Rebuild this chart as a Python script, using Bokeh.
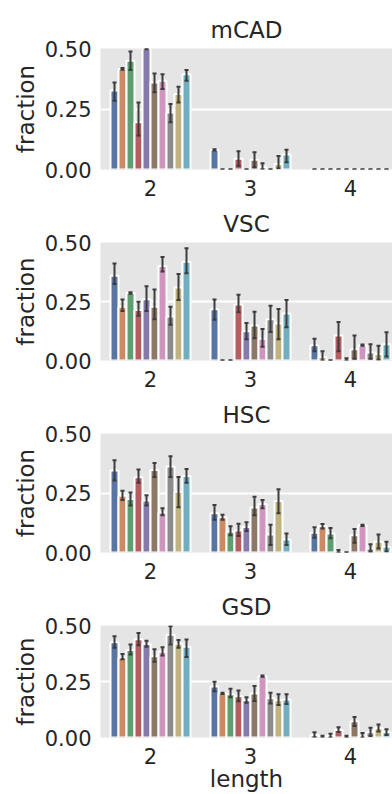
import colorsys

from bokeh.embed import file_html
from bokeh.layouts import column
from bokeh.models import (ColumnDataSource, FixedTicker, Label, NumeralTickFormatter,
                          Range1d, TeeHead, Whisker)
from bokeh.plotting import figure
from bokeh.resources import INLINE
from bokeh.transform import dodge

# ---- data -----------------------------------------------------------------
lengths = ["2", "3", "4"]
groups = ["g01", "g02", "g03", "g04", "g05", "g06", "g07", "g08", "g09", "g10"]
panel_names = ["mCAD", "VSC", "HSC", "GSD"]

# rows: length 2, 3, 4 ; columns: one value per group
mcad_mean = [[0.326, 0.415, 0.449, 0.195, 0.500, 0.360, 0.367, 0.236, 0.312, 0.394],
             [0.081, 0.000, 0.000, 0.044, 0.000, 0.040, 0.010, 0.000, 0.023, 0.062],
             [0.000, 0.000, 0.000, 0.000, 0.000, 0.000, 0.000, 0.000, 0.000, 0.000]]
mcad_lo = [[0.284, 0.412, 0.411, 0.140, 0.497, 0.319, 0.333, 0.195, 0.277, 0.367],
           [0.078, 0.000, 0.000, 0.016, 0.000, 0.009, 0.000, 0.000, 0.005, 0.030],
           [0.000, 0.000, 0.000, 0.000, 0.000, 0.000, 0.000, 0.000, 0.000, 0.000]]
mcad_hi = [[0.360, 0.419, 0.488, 0.277, 0.503, 0.397, 0.394, 0.271, 0.342, 0.411],
           [0.084, 0.000, 0.000, 0.075, 0.000, 0.071, 0.026, 0.000, 0.056, 0.082],
           [0.000, 0.000, 0.000, 0.000, 0.000, 0.000, 0.000, 0.000, 0.000, 0.000]]

vsc_mean = [[0.359, 0.228, 0.286, 0.214, 0.260, 0.228, 0.400, 0.186, 0.309, 0.418],
            [0.217, 0.000, 0.000, 0.237, 0.124, 0.148, 0.092, 0.175, 0.157, 0.199],
            [0.065, 0.014, 0.000, 0.106, 0.004, 0.048, 0.065, 0.034, 0.028, 0.069]]
vsc_lo = [[0.324, 0.210, 0.283, 0.190, 0.210, 0.175, 0.377, 0.152, 0.256, 0.370],
          [0.173, 0.000, 0.000, 0.204, 0.090, 0.094, 0.058, 0.121, 0.090, 0.141],
          [0.039, 0.000, 0.000, 0.039, 0.000, 0.007, 0.062, 0.007, 0.003, 0.017]]
vsc_hi = [[0.411, 0.258, 0.289, 0.249, 0.315, 0.301, 0.439, 0.228, 0.366, 0.476],
          [0.258, 0.000, 0.000, 0.279, 0.159, 0.207, 0.134, 0.232, 0.218, 0.256],
          [0.092, 0.039, 0.000, 0.163, 0.010, 0.106, 0.068, 0.069, 0.062, 0.120]]

hsc_mean = [[0.345, 0.238, 0.225, 0.316, 0.218, 0.347, 0.168, 0.361, 0.255, 0.321],
            [0.165, 0.148, 0.087, 0.092, 0.107, 0.189, 0.204, 0.076, 0.216, 0.055],
            [0.083, 0.110, 0.080, 0.005, 0.000, 0.072, 0.114, 0.017, 0.045, 0.024]]
hsc_lo = [[0.303, 0.221, 0.197, 0.293, 0.197, 0.317, 0.156, 0.317, 0.190, 0.293],
          [0.138, 0.138, 0.073, 0.069, 0.090, 0.156, 0.186, 0.032, 0.165, 0.032],
          [0.062, 0.101, 0.060, 0.000, 0.000, 0.041, 0.111, 0.003, 0.017, 0.004]]
hsc_hi = [[0.388, 0.259, 0.252, 0.349, 0.241, 0.376, 0.186, 0.404, 0.317, 0.351],
          [0.200, 0.159, 0.110, 0.121, 0.127, 0.234, 0.221, 0.117, 0.266, 0.080],
          [0.106, 0.120, 0.103, 0.010, 0.000, 0.099, 0.117, 0.035, 0.076, 0.045]]

gsd_mean = [[0.425, 0.356, 0.391, 0.439, 0.417, 0.363, 0.383, 0.459, 0.419, 0.405],
            [0.228, 0.197, 0.193, 0.184, 0.166, 0.196, 0.274, 0.175, 0.166, 0.170],
            [0.011, 0.004, 0.008, 0.034, 0.003, 0.072, 0.005, 0.023, 0.041, 0.025]]
gsd_lo = [[0.401, 0.349, 0.370, 0.412, 0.405, 0.338, 0.366, 0.415, 0.401, 0.359],
          [0.207, 0.194, 0.180, 0.162, 0.155, 0.163, 0.271, 0.152, 0.145, 0.149],
          [0.000, 0.000, 0.000, 0.025, 0.000, 0.051, 0.000, 0.007, 0.027, 0.011]]
gsd_hi = [[0.452, 0.373, 0.415, 0.467, 0.432, 0.394, 0.403, 0.497, 0.435, 0.438],
          [0.249, 0.200, 0.218, 0.210, 0.180, 0.230, 0.277, 0.200, 0.193, 0.193],
          [0.023, 0.008, 0.017, 0.046, 0.008, 0.092, 0.020, 0.044, 0.058, 0.037]]

y_ticks = [0.0, 0.25, 0.5]

# ---- style ----------------------------------------------------------------
FONT = "DejaVu Sans"
TEXT = "#262626"
ERR = "#3d3d3d"
base_palette = ["#4C72B0", "#DD8452", "#55A868", "#C44E52", "#8172B3",
                "#937860", "#DA8BC3", "#8C8C8C", "#CCB974", "#64B5CD"]


def desaturate(hex_color, factor=0.75):
    r, g, b = (int(hex_color[i:i + 2], 16) / 255 for i in (1, 3, 5))
    h, l, s = colorsys.rgb_to_hls(r, g, b)
    r, g, b = colorsys.hls_to_rgb(h, l, s * factor)
    return "#%02x%02x%02x" % (round(r * 255), round(g * 255), round(b * 255))


colors = [desaturate(c) for c in base_palette]

FRAME_H = 121
BAR_W = 0.8 / len(groups)


def make_panel(name, means, lows, highs, top, bottom, xlabel=None):
    p = figure(width=392, height=top + FRAME_H + bottom,
               x_range=Range1d(-0.5, 2.42), y_range=Range1d(0, 0.5),
               output_backend="svg", toolbar_location=None,
               min_border_left=100, min_border_right=0,
               min_border_top=top, min_border_bottom=bottom,
               background_fill_color="#E5E5E5", border_fill_color="white",
               outline_line_color=None)

    p.title.text = name
    p.title.align = "center"
    p.title.offset = 6
    p.title.standoff = 11
    p.title.text_font = FONT
    p.title.text_font_size = "23px"
    p.title.text_font_style = "normal"
    p.title.text_color = TEXT

    for i, g in enumerate(groups):
        src = ColumnDataSource(dict(
            pos=list(range(len(lengths))),
            mean=[means[k][i] for k in range(len(lengths))],
            lo=[lows[k][i] for k in range(len(lengths))],
            hi=[highs[k][i] for k in range(len(lengths))],
        ))
        off = -0.4 + BAR_W * (i + 0.5)
        p.vbar(x=dodge("pos", off, range=p.x_range), top="mean", bottom=0,
               width=BAR_W, source=src, fill_color=colors[i],
               line_color="white", line_width=2)
        p.add_layout(Whisker(
            base=dodge("pos", off, range=p.x_range), lower="lo", upper="hi",
            source=src, level="annotation", line_color=ERR, line_width=2,
            upper_head=TeeHead(size=4, line_color=ERR, line_width=2),
            lower_head=TeeHead(size=4, line_color=ERR, line_width=2)))

    p.xgrid.visible = False
    p.ygrid.ticker = FixedTicker(ticks=y_ticks)
    p.ygrid.grid_line_color = "white"
    p.ygrid.grid_line_width = 2

    xa = p.xaxis[0]
    xa.ticker = FixedTicker(ticks=list(range(len(lengths))))
    xa.major_label_overrides = {i: lab for i, lab in enumerate(lengths)}
    ya = p.yaxis[0]
    ya.ticker = FixedTicker(ticks=y_ticks)
    ya.formatter = NumeralTickFormatter(format="0.00")
    ya.axis_label = "fraction"
    ya.axis_label_standoff = 3
    for ax in (xa, ya):
        ax.axis_line_color = None
        ax.major_tick_line_color = None
        ax.minor_tick_line_color = None
        ax.major_tick_out = 0
        ax.major_tick_in = 0
        ax.minor_tick_out = 0
        ax.major_label_text_font = FONT
        ax.major_label_text_font_size = "21px"
        ax.major_label_text_color = TEXT
        ax.axis_label_text_font = FONT
        ax.axis_label_text_font_size = "23px"
        ax.axis_label_text_font_style = "normal"
        ax.axis_label_text_color = TEXT
    xa.major_label_standoff = 10
    ya.major_label_standoff = 9
    if xlabel:
        xa.axis_label = xlabel
        xa.axis_label_standoff = -1
    return p


p1 = make_panel("mCAD", mcad_mean, mcad_lo, mcad_hi, 48, 34)
p2 = make_panel("VSC", vsc_mean, vsc_lo, vsc_hi, 36, 34)
p3 = make_panel("HSC", hsc_mean, hsc_lo, hsc_hi, 37, 34)
p4 = make_panel("GSD", gsd_mean, gsd_lo, gsd_hi, 37, 50, xlabel="length")

# figure heading, running off the top edge of the page
p1.add_layout(Label(x=-87, y=FRAME_H + 48, x_units="screen", y_units="screen",
                    text="(a) fractions at length", text_font=FONT,
                    text_font_size="23px", text_color=TEXT,
                    text_baseline="alphabetic", text_align="left"))

layout = column(p1, p2, p3, p4, spacing=0)
open("out.html", "w").write(file_html(layout, INLINE))
